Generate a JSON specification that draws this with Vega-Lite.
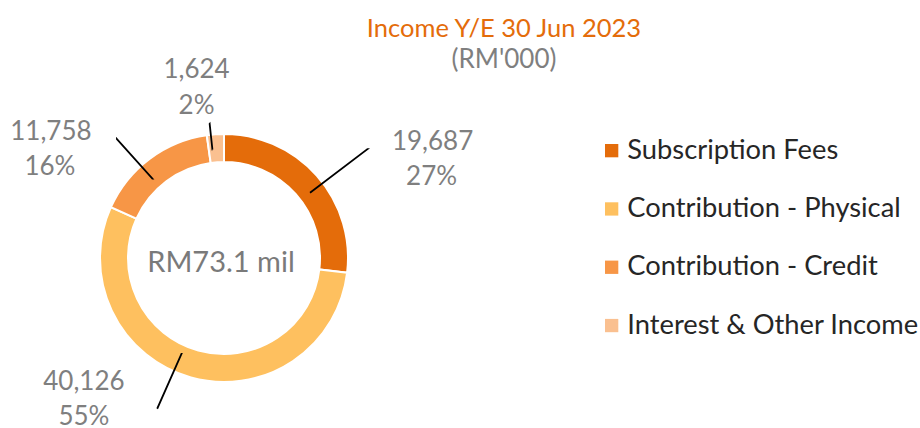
{
  "$schema": "https://vega.github.io/schema/vega-lite/v6.json",
  "width": 448,
  "height": 340,
  "autosize": {"type": "none"},
  "padding": {"left": 0, "top": 88, "right": 472, "bottom": 0},
  "background": "white",
  "config": {"view": {"stroke": null}, "font": "Lato"},
  "title": {
    "text": "Income Y/E 30 Jun 2023",
    "subtitle": "(RM'000)",
    "anchor": "middle",
    "dx": 280,
    "offset": -16,
    "font": "Lato",
    "fontSize": 25.5,
    "fontWeight": "normal",
    "color": "#E46C0A",
    "subtitleFont": "Lato",
    "subtitleFontSize": 26,
    "subtitleColor": "#7f7f7f",
    "subtitlePadding": 5
  },
  "data": {
    "values": [
      {"category": "Subscription Fees", "value": 19687, "share": 0.27},
      {"category": "Contribution - Physical", "value": 40126, "share": 0.55},
      {"category": "Contribution - Credit", "value": 11758, "share": 0.16},
      {"category": "Interest & Other Income", "value": 1624, "share": 0.02}
    ]
  },
  "transform": [
    {"window": [{"op": "row_number", "as": "rank"}]},
    {"stack": "value", "groupby": [], "sort": [{"field": "rank", "order": "ascending"}], "as": ["s0", "s1"]}
  ],
  "layer": [
    {
      "mark": {"type": "arc", "radius": 124, "radius2": 96, "stroke": "white", "strokeWidth": 2},
      "encoding": {
        "theta": {"field": "s0", "type": "quantitative"},
        "theta2": {"field": "s1"},
        "color": {
          "field": "category",
          "type": "nominal",
          "sort": ["Subscription Fees", "Contribution - Physical", "Contribution - Credit", "Interest & Other Income"],
          "scale": {
            "domain": ["Subscription Fees", "Contribution - Physical", "Contribution - Credit", "Interest & Other Income"],
            "range": ["#E46C0A", "#FEC05F", "#F79646", "#FAC090"]
          },
          "legend": {
            "orient": "none",
            "legendX": 598,
            "legendY": 49,
            "title": null,
            "padding": 0,
            "symbolType": "square",
            "symbolSize": 177,
            "symbolStrokeWidth": 0,
            "symbolOpacity": 1,
            "labelFont": "Lato",
            "labelFontSize": 27.3,
            "labelColor": "#262626",
            "labelOffset": 2,
            "labelLimit": 400,
            "rowPadding": 30.3
          }
        }
      }
    },
    {
      "transform": [{"filter": "datum.category === 'Subscription Fees'"}],
      "mark": {"type": "arc", "radius": 180, "radius2": 108, "thetaOffset": 0.92153, "theta2Offset": -0.76843, "filled": false, "stroke": "black", "strokeWidth": 1.8},
      "encoding": {"theta": {"field": "s0", "type": "quantitative"}, "theta2": {"field": "s1"}}
    },
    {
      "transform": [{"filter": "datum.category === 'Contribution - Physical'"}],
      "mark": {"type": "arc", "radius": 164, "radius2": 105, "thetaOffset": 1.86876, "theta2Offset": -1.57574, "filled": false, "stroke": "black", "strokeWidth": 1.8},
      "encoding": {"theta": {"field": "s0", "type": "quantitative"}, "theta2": {"field": "s1"}}
    },
    {
      "transform": [{"filter": "datum.category === 'Contribution - Credit'"}],
      "mark": {"type": "arc", "radius": 160, "radius2": 107, "thetaOffset": 0.41569, "theta2Offset": -0.59364, "filled": false, "stroke": "black", "strokeWidth": 1.8},
      "encoding": {"theta": {"field": "s0", "type": "quantitative"}, "theta2": {"field": "s1"}}
    },
    {
      "transform": [{"filter": "datum.category === 'Interest & Other Income'"}],
      "mark": {"type": "arc", "radius": 135, "radius2": 109, "thetaOffset": 0.03293, "theta2Offset": -0.10647, "filled": false, "stroke": "black", "strokeWidth": 1.8},
      "encoding": {"theta": {"field": "s0", "type": "quantitative"}, "theta2": {"field": "s1"}}
    },
    {
      "mark": {"type": "text", "radius": 200, "dx": 59, "dy": 17, "fontSize": 26, "color": "#7f7f7f"},
      "encoding": {
        "theta": {"field": "value", "type": "quantitative", "stack": true},
        "order": {"field": "rank", "type": "quantitative"},
        "text": {"field": "value", "type": "quantitative", "format": ",", "condition": {"test": "datum.category !== 'Subscription Fees'", "value": ""}}
      }
    },
    {
      "mark": {"type": "text", "radius": 200, "dx": 58, "dy": 52, "fontSize": 26, "color": "#7f7f7f"},
      "encoding": {
        "theta": {"field": "value", "type": "quantitative", "stack": true},
        "order": {"field": "rank", "type": "quantitative"},
        "text": {"field": "share", "type": "quantitative", "format": ".0%", "condition": {"test": "datum.category !== 'Subscription Fees'", "value": ""}}
      }
    },
    {
      "mark": {"type": "text", "radius": 150, "dx": -100, "dy": -21, "fontSize": 26, "color": "#7f7f7f"},
      "encoding": {
        "theta": {"field": "value", "type": "quantitative", "stack": true},
        "order": {"field": "rank", "type": "quantitative"},
        "text": {"field": "value", "type": "quantitative", "format": ",", "condition": {"test": "datum.category !== 'Contribution - Physical'", "value": ""}}
      }
    },
    {
      "mark": {"type": "text", "radius": 150, "dx": -100, "dy": 14, "fontSize": 26, "color": "#7f7f7f"},
      "encoding": {
        "theta": {"field": "value", "type": "quantitative", "stack": true},
        "order": {"field": "rank", "type": "quantitative"},
        "text": {"field": "share", "type": "quantitative", "format": ".0%", "condition": {"test": "datum.category !== 'Contribution - Physical'", "value": ""}}
      }
    },
    {
      "mark": {"type": "text", "radius": 150, "dx": -83, "dy": -6, "fontSize": 26, "color": "#7f7f7f"},
      "encoding": {
        "theta": {"field": "value", "type": "quantitative", "stack": true},
        "order": {"field": "rank", "type": "quantitative"},
        "text": {"field": "value", "type": "quantitative", "format": ",", "condition": {"test": "datum.category !== 'Contribution - Credit'", "value": ""}}
      }
    },
    {
      "mark": {"type": "text", "radius": 150, "dx": -84, "dy": 29, "fontSize": 26, "color": "#7f7f7f"},
      "encoding": {
        "theta": {"field": "value", "type": "quantitative", "stack": true},
        "order": {"field": "rank", "type": "quantitative"},
        "text": {"field": "share", "type": "quantitative", "format": ".0%", "condition": {"test": "datum.category !== 'Contribution - Credit'", "value": ""}}
      }
    },
    {
      "mark": {"type": "text", "radius": 150, "dx": -17, "dy": -38, "fontSize": 26, "color": "#7f7f7f"},
      "encoding": {
        "theta": {"field": "value", "type": "quantitative", "stack": true},
        "order": {"field": "rank", "type": "quantitative"},
        "text": {"field": "value", "type": "quantitative", "format": ",", "condition": {"test": "datum.category !== 'Interest & Other Income'", "value": ""}}
      }
    },
    {
      "mark": {"type": "text", "radius": 150, "dx": -17, "dy": -2, "fontSize": 26, "color": "#7f7f7f"},
      "encoding": {
        "theta": {"field": "value", "type": "quantitative", "stack": true},
        "order": {"field": "rank", "type": "quantitative"},
        "text": {"field": "share", "type": "quantitative", "format": ".0%", "condition": {"test": "datum.category !== 'Interest & Other Income'", "value": ""}}
      }
    },
    {
      "data": {"values": [{"caption": "RM73.1 mil"}]},
      "mark": {"type": "text", "dx": -3, "dy": 5, "fontSize": 29, "color": "#7a7a7a"},
      "encoding": {"text": {"field": "caption", "type": "nominal"}}
    }
  ]
}
